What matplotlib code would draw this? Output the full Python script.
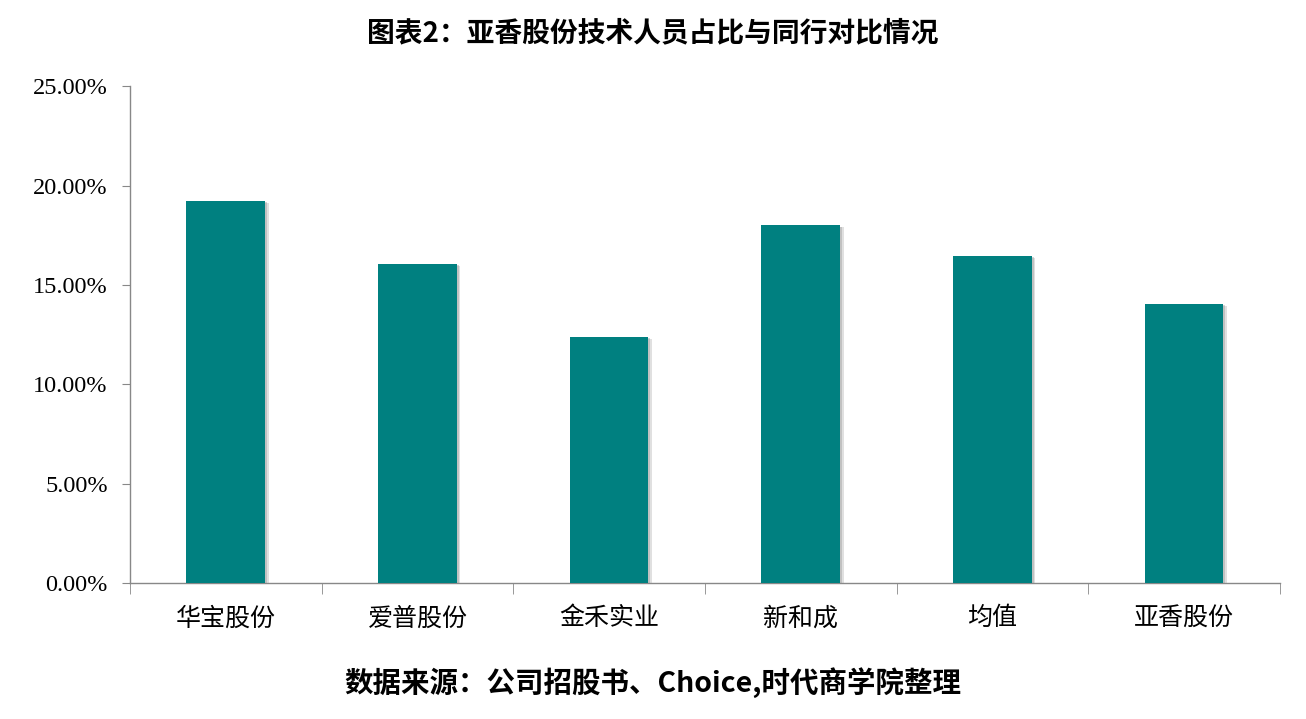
import numpy as np
import matplotlib
matplotlib.use('Agg')
import matplotlib.pyplot as plt
import matplotlib.patheffects as pe
from matplotlib.ticker import FuncFormatter, FixedLocator

# data
categories = ['华宝股份', '爱普股份', '金禾实业', '新和成', '均值', '亚香股份']
ratios = [19.25, 16.05, 12.40, 18.00, 16.45, 14.05]  # 技术人员占比, %
yticks = [0, 5, 10, 15, 20, 25]

plt.rcParams['font.family'] = ['Noto Sans CJK SC', 'DejaVu Sans']
numfont = ['Liberation Serif', 'Noto Sans CJK SC']

fig = plt.figure(figsize=(13.06, 7.19), dpi=100)
ax = fig.add_axes([0.0995, 0.189, 0.8805, 0.691])

x = np.arange(len(categories))
bars = ax.bar(x, ratios, width=0.41, color='#008080', zorder=3)
for b in bars:
    b.set_path_effects([pe.SimplePatchShadow(offset=(2.5, -1.5), shadow_rgbFace='#999999', alpha=0.3),
                        pe.SimplePatchShadow(offset=(1.5, -0.8), shadow_rgbFace='#888888', alpha=0.35),
                        pe.Normal()])

ax.set_xlim(-0.5, len(categories) - 0.5)
ax.set_ylim(0, 25)
ax.set_yticks(yticks)
ax.yaxis.set_major_formatter(FuncFormatter(lambda v, p: '{:.2f}%'.format(v)))
for lab in ax.get_yticklabels():
    lab.set_family(numfont)
    lab.set_fontsize(17.5)

ax.set_xticks(x)
ax.set_xticklabels(categories, fontsize=18)
ax.xaxis.set_minor_locator(FixedLocator(np.arange(-0.5, len(categories), 1.0)))
ax.tick_params(axis='x', which='major', length=0, pad=16)
ax.tick_params(axis='x', which='minor', length=8, color='#888888', direction='out')
ax.tick_params(axis='y', length=6, color='#888888', direction='out', pad=10)

for s in ['top', 'right']:
    ax.spines[s].set_visible(False)
for s in ['left', 'bottom']:
    ax.spines[s].set_color('#888888')
    ax.spines[s].set_linewidth(1)

fig.text(0.5, 0.953, '图表2：亚香股份技术人员占比与同行对比情况', ha='center', va='center',
         fontsize=20, fontweight='bold')
fig.text(0.5, 0.051, '数据来源：公司招股书、Choice,时代商学院整理', ha='center', va='center',
         fontsize=20.5, fontweight='bold')

fig.savefig('out.png', dpi=100)
